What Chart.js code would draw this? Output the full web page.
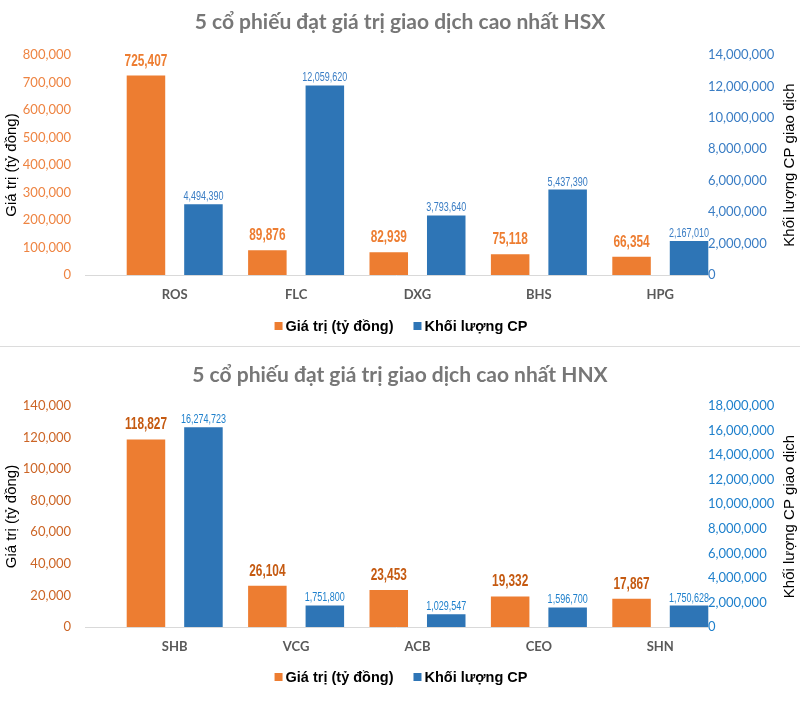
<!DOCTYPE html>
<html><head><meta charset="utf-8">
<script src="https://cdn.jsdelivr.net/npm/chart.js@4"></script>
<style>
html,body{margin:0;padding:0;background:#fff;}
#top{position:absolute;left:0;top:0;width:800px;height:346px;}
#sep{position:absolute;left:0;top:346px;width:800px;height:1px;background:#dcdcdc;}
#bot{position:absolute;left:0;top:347px;width:800px;height:375px;}
</style></head><body>
<div id="top"><canvas id="c1"></canvas></div>
<div id="sep"></div>
<div id="bot"><canvas id="c2"></canvas></div>
<script>
// ---- data ----
const hsxCategories = ['ROS', 'FLC', 'DXG', 'BHS', 'HPG'];
const hsxValue = [725407, 89876, 82939, 75118, 66354];
const hsxVolume = [4494390, 12059620, 3793640, 5437390, 2167010];
const hsxValueTicks = [0, 100000, 200000, 300000, 400000, 500000, 600000, 700000, 800000];
const hsxVolumeTicks = [0, 2000000, 4000000, 6000000, 8000000, 10000000, 12000000, 14000000];

const hnxCategories = ['SHB', 'VCG', 'ACB', 'CEO', 'SHN'];
const hnxValue = [118827, 26104, 23453, 19332, 17867];
const hnxVolume = [16274723, 1751800, 1029547, 1596700, 1750628];
const hnxValueTicks = [0, 20000, 40000, 60000, 80000, 100000, 120000, 140000];
const hnxVolumeTicks = [0, 2000000, 4000000, 6000000, 8000000, 10000000, 12000000, 14000000, 16000000, 18000000];

const seriesNames = ['Giá trị (tỷ đồng)', 'Khối lượng CP'];
const chartTitles = ['5 cổ phiếu đạt giá trị giao dịch cao nhất HSX', '5 cổ phiếu đạt giá trị giao dịch cao nhất HNX'];
const leftAxisTitle = 'Giá trị (tỷ đồng)';
const rightAxisTitle = 'Khối lượng CP giao dịch';

// ---- styles ----
const ORANGE = '#ED7D31';
const BLUE = '#2E75B6';
const ARIAL = "'Liberation Sans', Arial, sans-serif";
const fmt = v => Number(v).toLocaleString('en-US');

const extras = {
  id: 'extras',
  beforeDatasetsDraw(chart, args, o) {
    const {ctx, chartArea} = chart;
    const y0 = Math.round(chart.scales.y.getPixelForValue(0)) + 0.5;
    ctx.save();
    ctx.strokeStyle = '#d9d9d9';
    ctx.lineWidth = 1;
    ctx.beginPath();
    ctx.moveTo(chartArea.left - 29, y0);
    ctx.lineTo(chartArea.right - 13, y0);
    ctx.stroke();
    ctx.restore();
  },
  afterDatasetsDraw(chart, args, o) {
    const {ctx} = chart;
    chart.data.datasets.forEach((ds, di) => {
      const meta = chart.getDatasetMeta(di);
      const st = o.labels[di];
      meta.data.forEach((el, i) => {
        ctx.save();
        ctx.translate(el.x, el.y - st.gap);
        ctx.scale(st.squeeze, 1);   // narrow face
        ctx.font = st.font;
        ctx.fillStyle = st.color;
        ctx.textAlign = 'center';
        ctx.textBaseline = 'alphabetic';
        ctx.fillText(fmt(ds.data[i]), 0, 0);
        ctx.restore();
      });
    });
  },
  afterDraw(chart, args, o) {
    const {ctx, chartArea} = chart;
    ctx.save();
    // right axis title
    ctx.translate(o.rightTitleX, (chartArea.top + chartArea.bottom) / 2);
    ctx.rotate(-Math.PI / 2);
    ctx.font = '15px ' + ARIAL;
    ctx.fillStyle = '#000';
    ctx.textAlign = 'center';
    ctx.textBaseline = 'middle';
    ctx.fillText(rightAxisTitle, 0, 0);
    ctx.restore();
    // legend
    ctx.save();
    ctx.font = 'bold 14.5px ' + ARIAL;
    ctx.textBaseline = 'middle';
    const box = 8, gapBox = 3, gapItem = 20;
    const items = chart.data.datasets.map(ds => ({text: ds.label, color: ds.backgroundColor, w: ctx.measureText(ds.label).width}));
    let total = 0;
    items.forEach((it, k) => { total += box + gapBox + it.w + (k < items.length - 1 ? gapItem : 0); });
    let x = chart.width / 2 - total / 2 + 1;
    const y = o.legendY;
    items.forEach(it => {
      ctx.fillStyle = it.color;
      ctx.fillRect(x, y - box / 2, box, box);
      x += box + gapBox;
      ctx.fillStyle = '#000';
      ctx.textAlign = 'left';
      ctx.fillText(it.text, x, y + 1);
      x += it.w + gapItem;
    });
    ctx.restore();
  }
};

function makeChart(id, c) {
  return new Chart(document.getElementById(id), {
    type: 'bar',
    data: {
      labels: c.categories,
      datasets: [
        {label: seriesNames[0], data: c.value, backgroundColor: ORANGE, yAxisID: 'y',
         categoryPercentage: 0.947, barPercentage: 0.67, borderWidth: 0},
        {label: seriesNames[1], data: c.volume, backgroundColor: BLUE, yAxisID: 'y1',
         categoryPercentage: 0.947, barPercentage: 0.67, borderWidth: 0}
      ]
    },
    options: {
      responsive: true,
      maintainAspectRatio: false,
      animation: false,
      layout: {padding: {left: 0, right: 0, top: 0, bottom: c.padBottom}},
      plugins: {
        legend: {display: false},
        tooltip: {enabled: false},
        title: {
          display: true, text: c.title, color: '#777777',
          font: {family: 'Lato', weight: 'bold', size: 21, lineHeight: 1.2},
          padding: {top: c.titleTop, bottom: c.titleBottom}
        },
        extras: {
          rightTitleX: 790,
          legendY: c.legendY,
          labels: [
            {font: 'bold 16px ' + ARIAL, color: c.valueLabelColor, gap: 10, squeeze: 0.74},
            {font: '12px ' + ARIAL, color: c.volumeLabelColor, gap: 4, squeeze: 0.75}
          ]
        }
      },
      scales: {
        x: {
          grid: {display: false, drawTicks: false},
          border: {display: false},
          ticks: {color: '#595959', font: {family: 'Lato', weight: 'bold', size: 13}, padding: 12},
          afterFit: s => { s.height = 30; }
        },
        y: {
          position: 'left',
          min: c.valueTicks[0], max: c.valueTicks[c.valueTicks.length - 1],
          afterBuildTicks: s => { s.ticks = c.valueTicks.map(v => ({value: v})); },
          grid: {display: false, drawTicks: false},
          border: {display: false},
          ticks: {color: c.valueTickColor, font: {family: 'Lato', size: 13}, padding: 43, callback: v => fmt(v)},
          title: {display: true, text: leftAxisTitle, color: '#000',
                  font: {family: ARIAL, size: 15}, padding: {top: 3, bottom: 0}},
          afterFit: s => { s.width = 114; }
        },
        y1: {
          position: 'right',
          min: c.volumeTicks[0], max: c.volumeTicks[c.volumeTicks.length - 1],
          afterBuildTicks: s => { s.ticks = c.volumeTicks.map(v => ({value: v})); },
          grid: {display: false, drawTicks: false},
          border: {display: false},
          ticks: {color: c.volumeTickColor, font: {family: 'Lato', size: 13}, padding: -13, callback: v => fmt(v)},
          afterFit: s => { s.width = 79; s._computeLabelArea = () => undefined; }
        }
      }
    },
    plugins: [extras]
  });
}

makeChart('c1', {
  categories: hsxCategories, value: hsxValue, volume: hsxVolume,
  valueTicks: hsxValueTicks, volumeTicks: hsxVolumeTicks,
  title: chartTitles[0], titleTop: 9.4, titleBottom: 20.4, padBottom: 41,
  legendY: 326,
  valueTickColor: '#EE8442', volumeTickColor: '#3A7DC4',
  valueLabelColor: '#ED7D31', volumeLabelColor: '#3A7DC4'
});
makeChart('c2', {
  categories: hnxCategories, value: hnxValue, volume: hnxVolume,
  valueTicks: hnxValueTicks, volumeTicks: hnxVolumeTicks,
  title: chartTitles[1], titleTop: 15.4, titleBottom: 18.4, padBottom: 65,
  legendY: 330,
  valueTickColor: '#CC6526', volumeTickColor: '#1F80CC',
  valueLabelColor: '#C55A11', volumeLabelColor: '#1F80CC'
});
</script>
</body></html>
